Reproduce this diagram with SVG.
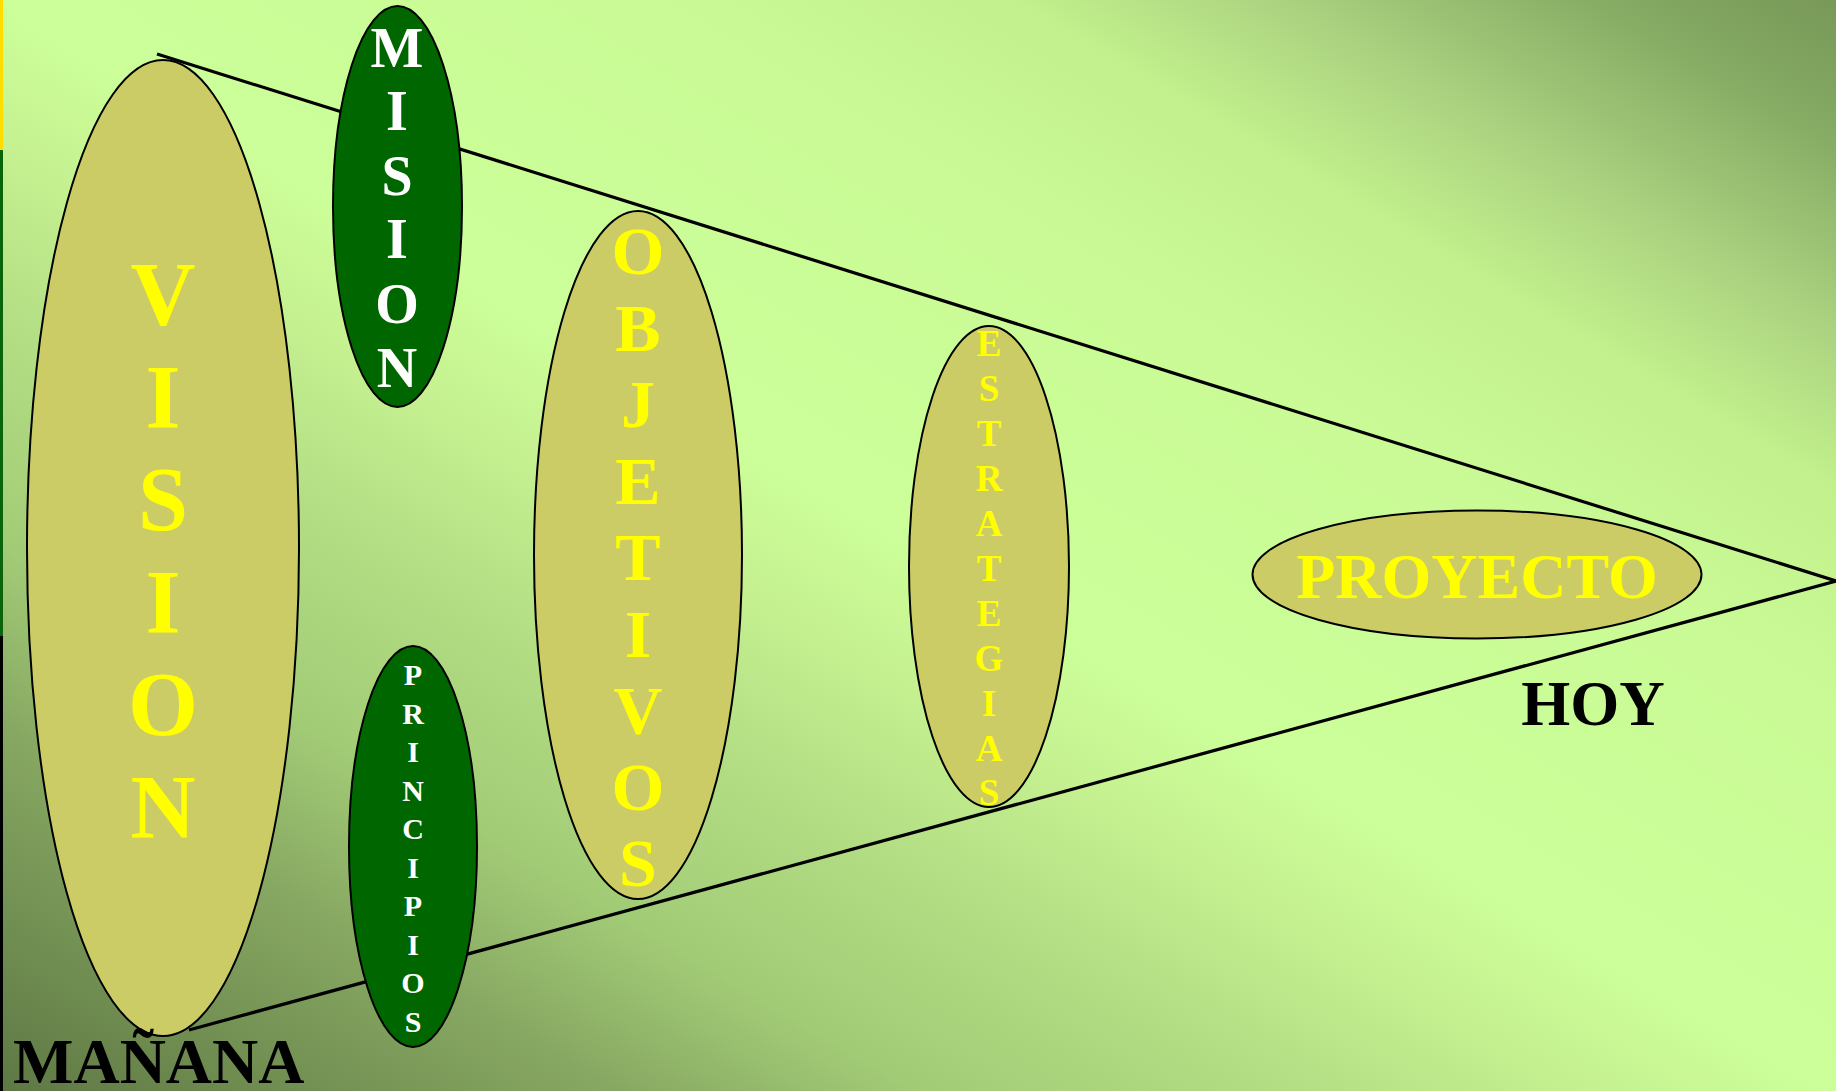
<svg xmlns="http://www.w3.org/2000/svg" width="1836" height="1091" viewBox="0 0 1836 1091">
<defs>
<linearGradient id="bg" x1="0" y1="1" x2="1" y2="0">
<stop offset="0" stop-color="#5e7844"/>
<stop offset="0.169" stop-color="#87a862"/>
<stop offset="0.25" stop-color="#a2cb76"/>
<stop offset="0.3625" stop-color="#b5e085"/>
<stop offset="0.43" stop-color="#c5f090"/>
<stop offset="0.5" stop-color="#ccff99"/>
<stop offset="0.68" stop-color="#c9fa95"/>
<stop offset="0.777" stop-color="#c2f08c"/>
<stop offset="0.84" stop-color="#aed682"/>
<stop offset="0.94" stop-color="#84aa63"/>
<stop offset="1" stop-color="#789858"/>
</linearGradient>
</defs>
<style>
.line{stroke:#000;stroke-width:3.2;fill:none}
.khaki{fill:#cccc66;stroke:#000;stroke-width:2}
.dgreen{fill:#006600;stroke:#000;stroke-width:2}
.t{font-family:"Liberation Serif","Times New Roman",serif;font-weight:bold;text-anchor:middle}
.y{fill:#ffff00}
.w{fill:#ffffff}
.k{fill:#000000}
</style>
<rect x="0" y="0" width="1836" height="1091" fill="url(#bg)"/>
<rect x="0" y="0" width="3" height="150" fill="#ffdd00"/>
<rect x="0" y="150" width="3" height="486" fill="#0a640a"/>
<rect x="0" y="636" width="3" height="455" fill="#000"/>
<g id="connectors">
<line class="line" x1="157" y1="54" x2="1836" y2="581"/>
<line class="line" x1="189" y1="1030" x2="1836" y2="581"/>
</g>
<g id="vision">
<ellipse class="khaki" cx="163" cy="548" rx="136" ry="488"/>
<text class="t y" font-size="90"><tspan x="163" y="325">V</tspan><tspan x="163" y="427.5">I</tspan><tspan x="163" y="530">S</tspan><tspan x="163" y="632.5">I</tspan><tspan x="163" y="735">O</tspan><tspan x="163" y="837.5">N</tspan></text>
</g>
<g id="mision">
<ellipse class="dgreen" cx="397.5" cy="206.5" rx="64.5" ry="200.5"/>
<text class="t w" font-size="56"><tspan x="397" y="67">M</tspan><tspan x="397" y="130">I</tspan><tspan x="397" y="195">S</tspan><tspan x="397" y="258">I</tspan><tspan x="397" y="323">O</tspan><tspan x="397" y="387">N</tspan></text>
</g>
<g id="principios">
<ellipse class="dgreen" cx="413" cy="846.5" rx="64" ry="200.5"/>
<text class="t w" font-size="30"><tspan x="413" y="685">P</tspan><tspan x="413" y="723.5">R</tspan><tspan x="413" y="762">I</tspan><tspan x="413" y="800.5">N</tspan><tspan x="413" y="839">C</tspan><tspan x="413" y="877.5">I</tspan><tspan x="413" y="916">P</tspan><tspan x="413" y="954.5">I</tspan><tspan x="413" y="993">O</tspan><tspan x="413" y="1031.5">S</tspan></text>
</g>
<g id="objetivos">
<ellipse class="khaki" cx="638" cy="555" rx="104" ry="344"/>
<text class="t y" font-size="68"><tspan x="638" y="274">O</tspan><tspan x="638" y="350.5">B</tspan><tspan x="638" y="427">J</tspan><tspan x="638" y="503.5">E</tspan><tspan x="638" y="580">T</tspan><tspan x="638" y="656.5">I</tspan><tspan x="638" y="733">V</tspan><tspan x="638" y="809.5">O</tspan><tspan x="638" y="886">S</tspan></text>
</g>
<g id="estrategias">
<ellipse class="khaki" cx="989" cy="566.5" rx="80" ry="240.5"/>
<text class="t y" font-size="37"><tspan x="989" y="356">E</tspan><tspan x="989" y="401">S</tspan><tspan x="989" y="446">T</tspan><tspan x="989" y="491">R</tspan><tspan x="989" y="536">A</tspan><tspan x="989" y="581">T</tspan><tspan x="989" y="626">E</tspan><tspan x="989" y="671">G</tspan><tspan x="989" y="716">I</tspan><tspan x="989" y="761">A</tspan><tspan x="989" y="805">S</tspan></text>
</g>
<g id="proyecto">
<ellipse class="khaki" cx="1477" cy="574.5" rx="224.5" ry="64"/>
<text class="t y" font-size="64" x="1477" y="598">PROYECTO</text>
</g>
<g id="hoy">
<text class="t k" font-size="63" x="1593" y="725">HOY</text>
</g>
<g id="manana">
<text class="t k" font-size="64" x="13" y="1083" style="text-anchor:start">MAÑANA</text>
</g>
</svg>
